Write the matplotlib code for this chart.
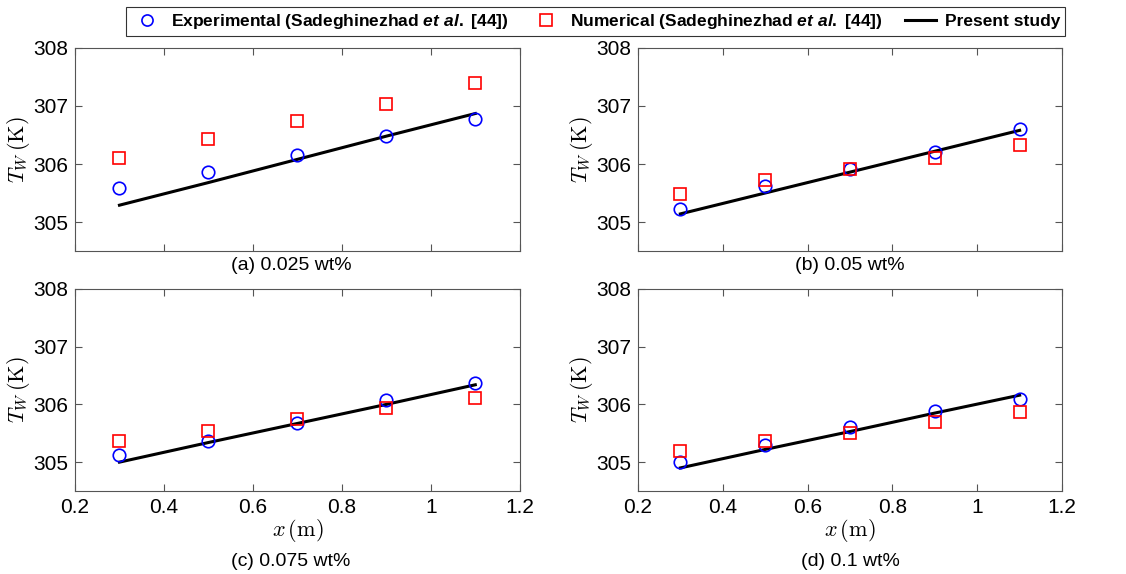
import matplotlib
matplotlib.use("Agg")
import matplotlib.pyplot as plt
from matplotlib.lines import Line2D

plt.rcParams["font.family"] = ["Liberation Sans", "DejaVu Sans"]
plt.rcParams["mathtext.fontset"] = "cm"
# used only by the legend texts (math_fontfamily="custom")
plt.rcParams["mathtext.it"] = "Liberation Sans:italic:bold"
plt.rcParams["mathtext.rm"] = "Liberation Sans:bold"
plt.rcParams["mathtext.bf"] = "Liberation Sans:bold"

# ---------- data ----------
x_pos = [0.3, 0.5, 0.7, 0.9, 1.1]
captions = ["(a) 0.025 wt%", "(b) 0.05 wt%", "(c) 0.075 wt%", "(d) 0.1 wt%"]

exp_a = [305.59, 305.87, 306.16, 306.49, 306.78]
num_a = [306.11, 306.43, 306.74, 307.04, 307.39]
sim_a = [305.29, 305.68, 306.08, 306.48, 306.87]

exp_b = [305.23, 305.62, 305.92, 306.20, 306.61]
num_b = [305.48, 305.72, 305.91, 306.10, 306.33]
sim_b = [305.14, 305.50, 305.86, 306.22, 306.58]

exp_c = [305.13, 305.36, 305.68, 306.08, 306.37]
num_c = [305.36, 305.54, 305.75, 305.93, 306.11]
sim_c = [305.00, 305.34, 305.67, 306.00, 306.34]

exp_d = [305.00, 305.30, 305.60, 305.89, 306.09]
num_d = [305.20, 305.37, 305.50, 305.70, 305.86]
sim_d = [304.90, 305.22, 305.53, 305.85, 306.16]

panels = [(exp_a, num_a, sim_a), (exp_b, num_b, sim_b),
          (exp_c, num_c, sim_c), (exp_d, num_d, sim_d)]

# ---------- figure ----------
W, H = 1126, 574
fig = plt.figure(figsize=(W / 100, H / 100), dpi=100)

# axes boxes in figure fractions (left, bottom, width, height)
boxes = [(0.0666, 0.5627, 0.395, 0.3537), (0.5666, 0.5627, 0.3766, 0.3537),
         (0.0666, 0.1446, 0.395, 0.352), (0.5666, 0.1446, 0.3766, 0.352)]
# caption centres in pixels (x, y from top)
cap_pos = [(291, 266), (850, 266), (291, 562), (850, 562)]

spine_col = "#555555"
for i, ((exp, num, sim), box) in enumerate(zip(panels, boxes)):
    ax = fig.add_axes(box)
    ax.plot(x_pos, sim, "-", color="black", lw=2.2, zorder=2)
    ax.plot(x_pos, exp, "o", mfc="none", mec="blue", ms=9, mew=1.2, zorder=3)
    ax.plot(x_pos, num, "s", mfc="none", mec="red", ms=9, mew=1.2, zorder=3)

    ax.set_xlim(0.2, 1.2)
    ax.set_ylim(304.5, 308)
    ax.set_yticks([305, 306, 307, 308])
    ax.set_xticks([0.2, 0.4, 0.6, 0.8, 1.0, 1.2])
    ax.tick_params(direction="in", top=True, right=True, labelsize=15,
                   length=5, color=spine_col, pad=5)
    for s in ax.spines.values():
        s.set_color(spine_col)
    ax.set_ylabel(r"$T_W\,(\mathrm{K})$", fontsize=16, labelpad=1)

    if i < 2:
        ax.set_xticklabels([])
    else:
        ax.set_xticklabels(["0.2", "0.4", "0.6", "0.8", "1", "1.2"])
        ax.set_xlabel(r"$x\,(\mathrm{m})$", fontsize=16, labelpad=0)
    cx, cy = cap_pos[i]
    fig.text(cx / W, 1 - cy / H, captions[i], ha="center", va="center", fontsize=14)

# ---------- shared legend ----------
handles = [
    Line2D([], [], ls="none", marker="o", mfc="none", mec="blue", ms=8, mew=1.2),
    Line2D([], [], ls="none", marker="s", mfc="none", mec="red", ms=8, mew=1.2),
    Line2D([], [], color="black", lw=2.2),
]
labels = [r"Experimental (Sadeghinezhad $\mathit{et\ al.}$ [44])",
          r"Numerical (Sadeghinezhad $\mathit{et\ al.}$ [44])",
          "Present study"]
leg = fig.legend(handles, labels, loc="upper center",
                 bbox_to_anchor=(0.529, 1 - 7 / H), borderaxespad=0,
                 ncol=3, frameon=True, fancybox=False, edgecolor="black",
                 handlelength=1.8, handletextpad=0.5,
                 columnspacing=1.25, borderpad=0.3,
                 prop={"weight": "bold", "size": 12.5})
leg.get_frame().set_linewidth(0.8)
for t in leg.get_texts():
    t.set_math_fontfamily("custom")

fig.savefig("out.png", dpi=100)
